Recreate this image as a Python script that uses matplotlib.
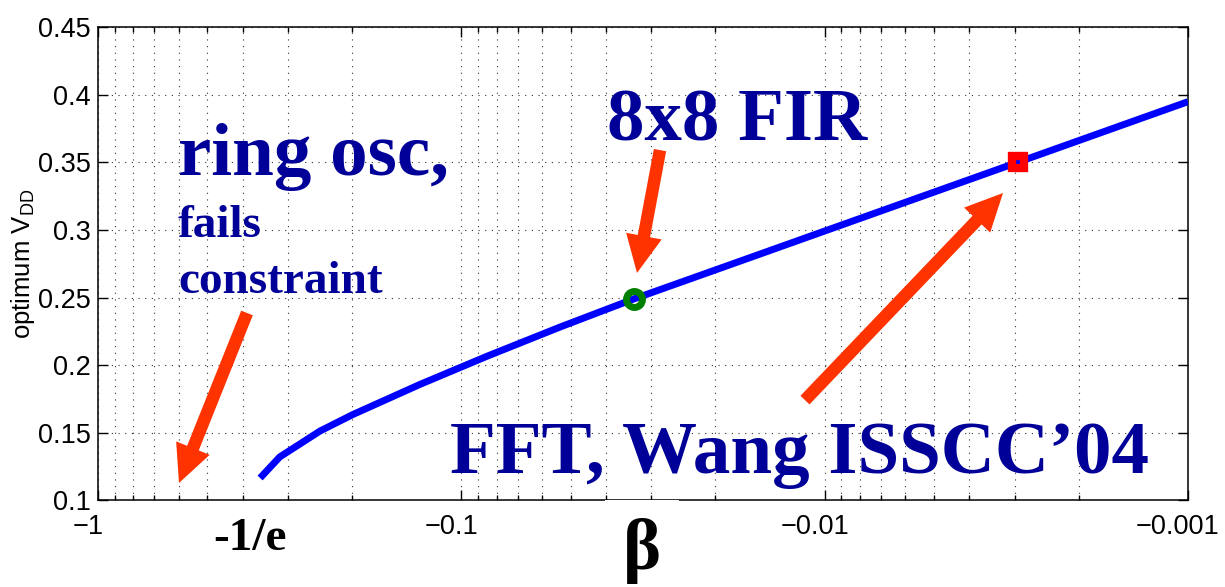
import numpy as np
import matplotlib
matplotlib.use('Agg')
import matplotlib.pyplot as plt
from matplotlib.transforms import ScaledTranslation
from matplotlib.ticker import FixedLocator, FixedFormatter, LogLocator, NullFormatter

plt.rcParams['font.family'] = ['Liberation Sans', 'DejaVu Sans']
plt.rcParams['mathtext.fontset'] = 'custom'
plt.rcParams['mathtext.rm'] = 'Liberation Sans'

# curve
beta = [-0.358, -0.316, -0.245, -0.199, -0.130, -0.085, -0.0535, -0.0335,
        -0.0198, -0.00948, -0.00503, -0.00294, -0.001]
vdd = [0.1166, 0.1322, 0.1513, 0.1635, 0.1858, 0.2066, 0.2282, 0.249,
       0.2708, 0.3014, 0.3277, 0.350, 0.3948]

# highlighted designs
fir_beta, fir_vdd = -0.0335, 0.249
fft_beta, fft_vdd = -0.00294, 0.350

xticks = [1, 0.1, 0.01, 0.001]
xticklabels = ['\u22121', '\u22120.1', '\u22120.01', '\u22120.001']
yticks = [0.1, 0.15, 0.2, 0.25, 0.3, 0.35, 0.4, 0.45]
yticklabels = ['0.1', '0.15', '0.2', '0.25', '0.3', '0.35', '0.4', '0.45']

navy = '#000099'
arrow_red = '#ff3300'

fig = plt.figure(figsize=(12.25, 5.87), dpi=100)
ax = fig.add_axes([0.0800, 0.1474, 0.8898, 0.8066])

ax.plot(-np.array(beta), vdd, color='#0000ff', lw=5, solid_capstyle='butt',
        solid_joinstyle='round', zorder=3)
ax.plot(-fir_beta, fir_vdd, 'o', ms=11.5, mew=5, mec='#008000', mfc='none', zorder=4)
ax.plot(-fft_beta, fft_vdd, 's', ms=8, mew=6, mec='#ff0000', mfc='none', zorder=4)

ax.set_xscale('log')
ax.set_xlim(1, 0.001)
ax.set_ylim(0.1, 0.45)
ax.xaxis.set_major_locator(FixedLocator(xticks))
ax.xaxis.set_major_formatter(FixedFormatter(xticklabels))
ax.xaxis.set_minor_locator(LogLocator(base=10, subs=np.arange(2, 10)))
ax.xaxis.set_minor_formatter(NullFormatter())
ax.set_yticks(yticks)
ax.set_yticklabels(yticklabels)

ax.tick_params(which='both', direction='in', top=True, right=True, labelsize=19.5, width=1)
ax.tick_params(which='major', length=7)
ax.tick_params(which='minor', length=3.5)
ax.tick_params(axis='x', pad=10)
ax.tick_params(axis='y', pad=5)
# x labels sit a little left of their ticks in the original
shift = ScaledTranslation(-0.10, 0, fig.dpi_scale_trans)
for lab in ax.get_xticklabels():
    lab.set_transform(lab.get_transform() + shift)
for s in ax.spines.values():
    s.set_linewidth(1.1)

ax.grid(True, which='major', axis='both', color='#333333', ls=(0, (1, 5)), lw=0.8)
ax.grid(True, which='minor', axis='x', color='#333333', ls=(0, (1, 5)), lw=0.8)

ax.set_ylabel('optimum V$_\\mathregular{DD}$', fontsize=18.5, labelpad=1)

serif = ['Liberation Serif', 'DejaVu Serif']
ax.text(0.0734, 0.687, 'ring osc,', transform=ax.transAxes, fontsize=54,
        family=serif, weight='bold', color=navy)
ax.text(0.0734, 0.556, 'fails', transform=ax.transAxes, fontsize=34,
        family=serif, weight='bold', color=navy)
ax.text(0.0734, 0.439, 'constraint', transform=ax.transAxes, fontsize=34,
        family=serif, weight='bold', color=navy)
ax.text(0.467, 0.761, '8x8 FIR', transform=ax.transAxes, fontsize=54,
        family=serif, weight='bold', color=navy)
ax.text(0.323, 0.058, 'FFT, Wang ISSCC\u201904', transform=ax.transAxes, fontsize=54,
        family=serif, weight='bold', color=navy, zorder=5)
ax.text(0.1055, -0.104, '-1/e', transform=ax.transAxes, fontsize=34,
        family=serif, weight='bold', color='black', clip_on=False)
ax.text(0.499, -0.145, '\u03b2', transform=ax.transAxes, fontsize=52,
        family=serif, weight='bold', color='black', ha='center', va='baseline',
        clip_on=False, zorder=10,
        bbox=dict(boxstyle='square,pad=0.25', fc='white', ec='none'))

arrows = [((0.1367, 0.396), (0.0743, 0.037)),
          ((0.5156, 0.740), (0.4945, 0.4805)),
          ((0.6486, 0.212), (0.8303, 0.6494))]
for tail, tip in arrows:
    ax.annotate('', xy=tip, xycoords='axes fraction', xytext=tail,
                textcoords='axes fraction',
                arrowprops=dict(arrowstyle='simple,head_length=2.7,head_width=2.6,tail_width=0.9',
                                mutation_scale=10, fc=arrow_red, ec='none',
                                shrinkA=0, shrinkB=0), zorder=5)

fig.savefig('out.png', dpi=100)
